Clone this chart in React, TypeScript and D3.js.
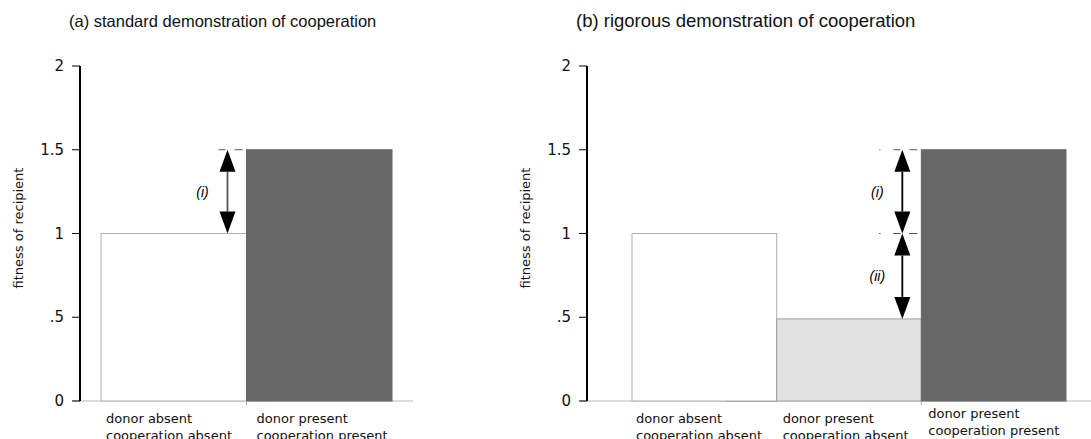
import * as d3 from 'd3'
import React from 'react'

const titleA = '(a) standard demonstration of cooperation'
const titleB = '(b) rigorous demonstration of cooperation'
const yLabel = 'fitness of recipient'

const yTicks = [0, 0.5, 1, 1.5, 2]
const yTickLabels = ['0', '.5', '1', '1.5', '2']

const categoriesA = [
  ['donor absent', 'cooperation absent'],
  ['donor present', 'cooperation present'],
]
const valuesA = [1, 1.5]

const categoriesB = [
  ['donor absent', 'cooperation absent'],
  ['donor present', 'cooperation absent'],
  ['donor present', 'cooperation present'],
]
const valuesB = [1, 0.49, 1.5]

// arrows: [from, to, label]
const arrowsA: [number, number, string][] = [[1.5, 1, '(i)']]
const arrowsB: [number, number, string][] = [
  [1.5, 1, '(i)'],
  [1, 0.49, '(ii)'],
]

const fills = ['#ffffff', '#e2e2e2', '#676767']
const strokes = ['#b0b0b0', '#a0a0a0', '#676767']

const W = 1091
const H = 439

const yScale = d3.scaleLinear().domain([0, 2]).range([401, 66])

const Arrow = ({ x, from, to, label, shaft }: any) => {
  const y1 = yScale(from)
  const y2 = yScale(to)
  const hw = 8
  const hh = 22
  const up = y1 < y2 ? 1 : -1
  return (
    <g>
      <line x1={x} x2={x} y1={y1 + up * hh} y2={y2 - up * hh} stroke={shaft} strokeWidth={1.8} />
      <path d={`M${x},${y1} L${x - hw},${y1 + up * hh} L${x + hw},${y1 + up * hh} Z`} fill="#000" />
      <path d={`M${x},${y2} L${x - hw},${y2 - up * hh} L${x + hw},${y2 - up * hh} Z`} fill="#000" />
      <text
        x={x - 25}
        y={(y1 + y2) / 2 + 5}
        textAnchor="middle"
        fontStyle="italic"
        fontFamily="Liberation Sans, Arial, sans-serif"
        fontSize={14}
      >
        {label}
      </text>
    </g>
  )
}

const Dash = ({ x, value, dot }: any) => {
  const y = yScale(value)
  return (
    <g stroke="#555" strokeWidth={1}>
      {dot && <line x1={x - 23} x2={x - 22} y1={y} y2={y} />}
      <line x1={x - 9} x2={x - 2} y1={y} y2={y} />
      <line x1={x + 7} x2={x + 15} y1={y} y2={y} />
    </g>
  )
}

const Panel = ({ title, titleSize, titleX, axisX, barRange, categories, values, colorIdx, arrows, shaft, baseEnd, labelOffsets, labelRaise, darkSeg }: any) => {
  const xScale = d3
    .scaleBand()
    .domain(categories.map((c: string[], i: number) => String(i)))
    .range(barRange)
    .paddingInner(0)
  const bw = xScale.bandwidth()
  const lastX = xScale(String(categories.length - 1)) as number
  const arrowX = lastX - 19
  return (
    <g>
      <text x={titleX} y={27} fontFamily="Liberation Sans, Arial, sans-serif" fontSize={titleSize} fill="#111">
        {title}
      </text>
      <text
        transform={`translate(${axisX - 57},${228}) rotate(-90)`}
        textAnchor="middle"
        fontFamily="DejaVu Sans, sans-serif"
        fontSize={13}
        fill="#111"
      >
        {yLabel}
      </text>
      {/* baseline */}
      <line x1={axisX - 7} x2={baseEnd} y1={yScale(0)} y2={yScale(0)} stroke="#b8b8b8" strokeWidth={1} />
      {darkSeg && (
        <line x1={darkSeg[0]} x2={darkSeg[1]} y1={yScale(0)} y2={yScale(0)} stroke="#8a8a8a" strokeWidth={1.6} />
      )}
      {values.map((v: number, i: number) => (
        <rect
          key={i}
          x={xScale(String(i))}
          y={yScale(v)}
          width={bw}
          height={yScale(0) - yScale(v)}
          fill={fills[colorIdx[i]]}
          stroke={strokes[colorIdx[i]]}
          strokeWidth={1}
        />
      ))}
      <line x1={lastX} x2={lastX} y1={yScale(0)} y2={yScale(0) + 4} stroke="#aaa" />
      {/* y axis */}
      <line x1={axisX} x2={axisX} y1={yScale(2)} y2={yScale(0)} stroke="#000" strokeWidth={2} />
      {yTicks.map((t, i) => (
        <g key={t}>
          <line x1={axisX - 8} x2={axisX} y1={yScale(t)} y2={yScale(t)} stroke="#000" strokeWidth={1} />
          <text
            x={axisX - 16}
            y={yScale(t) + 5}
            textAnchor="end"
            fontFamily="DejaVu Sans, sans-serif"
            fontSize={15}
            fill="#111"
          >
            {yTickLabels[i]}
          </text>
        </g>
      ))}
      {categories.map((c: string[], i: number) => (
        <text
          key={i}
          x={(xScale(String(i)) as number) + labelOffsets[i]}
          y={423 - labelRaise[i]}
          fontFamily="DejaVu Sans, sans-serif"
          fontSize={13}
          fill="#111"
        >
          <tspan x={(xScale(String(i)) as number) + labelOffsets[i]}>{c[0]}</tspan>
          <tspan x={(xScale(String(i)) as number) + labelOffsets[i]} dy={17}>
            {c[1]}
          </tspan>
        </text>
      ))}
      {arrows.map((a: [number, number, string], i: number) => (
        <g key={i}>
          <Dash x={arrowX} value={a[0]} dot={arrows.length > 1} />
          <Arrow x={arrowX} from={a[0]} to={a[1]} label={a[2]} shaft={shaft} />
        </g>
      ))}
      {arrows.length > 1 && <Dash x={arrowX} value={arrows[arrows.length - 1][0]} dot />}
    </g>
  )
}

export default function App() {
  return (
    <svg width={W} height={H} style={{ position: 'absolute', left: 0, top: 0, background: '#fff' }}>
      <Panel
        title={titleA}
        titleSize={16.5}
        titleX={69}
        axisX={80}
        barRange={[101, 392]}
        categories={categoriesA}
        values={valuesA}
        colorIdx={[0, 2]}
        arrows={arrowsA}
        shaft="#555"
        baseEnd={413}
        labelOffsets={[5, 10]}
        labelRaise={[0, 0]}
      />
      <Panel
        title={titleB}
        titleSize={18.5}
        titleX={576}
        axisX={587}
        barRange={[632, 1066]}
        categories={categoriesB}
        values={valuesB}
        colorIdx={[0, 1, 2]}
        arrows={arrowsB}
        shaft="#000"
        baseEnd={1091}
        labelOffsets={[4, 6, 7]}
        labelRaise={[0, 0, 5]}
        darkSeg={[726, 777]}
      />
    </svg>
  )
}
